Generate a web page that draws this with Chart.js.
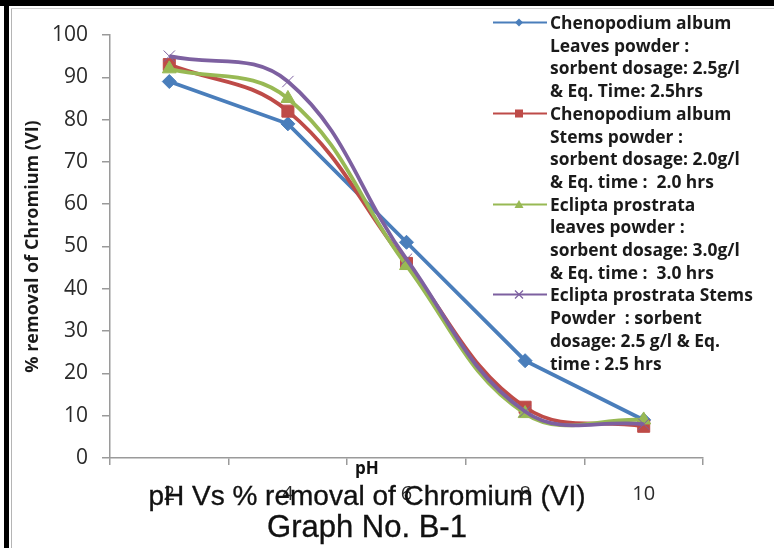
<!DOCTYPE html>
<html>
<head>
<meta charset="utf-8">
<title>pH Vs % removal of Chromium (VI)</title>
<script src="https://cdn.jsdelivr.net/npm/chart.js@4.4.1/dist/chart.umd.min.js"></script>
<style>
  html, body { margin: 0; padding: 0; background: #fff; }
  #wrap { position: relative; width: 774px; height: 548px; overflow: hidden; background: #fff; }
  #c { position: absolute; left: 0; top: 0; }
  .edge { position: absolute; }
  #legend { position: absolute; left: 550px; top: 11px; font: bold 17.4px "Open Sans"; line-height: 22.7px; color: #1a1a1a; white-space: nowrap; }
  .entry { position: relative; }
  .entry svg { position: absolute; left: -58px; top: 0; }
  .txt { position: absolute; left: 0; width: 734px; text-align: center; color: #111; font-family: "Liberation Sans"; -webkit-text-stroke: 0.35px #111; }
  #t1 { top: 481px; font-size: 28px; line-height: 30px; }
  #t2 { top: 511px; font-size: 31px; line-height: 32px; }
  #xt { position: absolute; left: 340px; width: 54px; top: 458px; text-align: center; font: bold 17px "Open Sans"; line-height: 20px; color: #111; }
</style>
</head>
<body>
<div id="wrap">
  <canvas id="c" width="774" height="548"></canvas>
  <div class="edge" style="left:0;top:0;width:774px;height:6px;background:#000"></div>
  <div class="edge" style="left:4px;top:0;width:5px;height:548px;background:#000"></div>
  <div class="edge" style="left:11px;top:8px;width:1px;height:540px;background:#b5b5b5"></div>
  <div class="edge" style="left:11px;top:8px;width:763px;height:1px;background:#d0d0d0"></div>
  <div id="xt">pH</div>
  <div id="legend"></div>
  <div class="txt" id="t1">pH Vs % removal of Chromium (VI)</div>
  <div class="txt" id="t2">Graph No. B-1</div>
</div>
<script>
// pH categories
const phLabels = ['2', '4', '6', '8', '10'];

// % removal of Cr(VI)
const caLeaves = [89, 79, 51, 23, 9];
const caStems = [93, 82, 46, 12, 7.5];
const epLeaves = [92, 85, 45.5, 10.5, 9];
const epStems = [95, 89, 47, 11, 8];

const yMin = 0, yMax = 100, yStep = 10;

const legendLines = [
  ['Chenopodium album', 'Leaves powder :', 'sorbent dosage: 2.5g/l', '& Eq. Time: 2.5hrs'],
  ['Chenopodium album', 'Stems powder :', 'sorbent dosage: 2.0g/l', '& Eq. time :  2.0 hrs'],
  ['Eclipta prostrata', 'leaves powder :', 'sorbent dosage: 3.0g/l', '& Eq. time :  3.0 hrs'],
  ['Eclipta prostrata Stems', 'Powder  : sorbent', 'dosage: 2.5 g/l & Eq.', 'time : 2.5 hrs']
];

const colors = ['#4a7ebb', '#be4b48', '#98b954', '#7d60a0'];
const shapes = ['rectRot', 'rect', 'triangle', 'crossRot'];

function makeSet(i, data, smooth, radius) {
  return {
    label: legendLines[i].join(' '),
    data: data,
    borderColor: colors[i],
    backgroundColor: colors[i],
    borderWidth: 3.8,
    tension: smooth ? 0.4 : 0,
    pointStyle: shapes[i],
    pointRadius: radius,
    pointBorderWidth: 1,
    pointBorderColor: colors[i],
    pointBackgroundColor: colors[i],
    order: 3 - i
  };
}

// legend (HTML so it can wrap lines like the original)
const legend = document.getElementById('legend');
legendLines.forEach((lines, i) => {
  const div = document.createElement('div');
  div.className = 'entry';
  const c = colors[i];
  let mark = '';
  if (i == 0) mark = `<polygon points="27,7.5 31,11.5 27,15.5 23,11.5" fill="${c}"/>`;
  if (i == 1) mark = `<rect x="23" y="7.5" width="8" height="8" fill="${c}"/>`;
  if (i == 2) mark = `<polygon points="27,7 31.5,15 22.5,15" fill="${c}"/>`;
  if (i == 3) mark = `<path d="M23,7.5 L31,15.5 M31,7.5 L23,15.5" stroke="${c}" stroke-width="1.2"/>`;
  div.innerHTML = `<svg width="56" height="23"><line x1="1" y1="11.5" x2="55" y2="11.5" stroke="${c}" stroke-width="2.2"/>${mark}</svg>` +
    lines.map(l => l.replace(/  /g, ' &nbsp;')).join('<br>');
  legend.appendChild(div);
});

const ctx = document.getElementById('c').getContext('2d');
const axisGrey = '#9a9a9a';

new Chart(ctx, {
  type: 'line',
  data: {
    labels: phLabels,
    datasets: [
      makeSet(0, caLeaves, false, 7),
      makeSet(1, caStems, true, 8.5),
      makeSet(2, epLeaves, true, 8),
      makeSet(3, epStems, true, 8)
    ]
  },
  options: {
    responsive: false,
    animation: false,
    layout: { padding: { top: 35, right: 71, left: 0, bottom: 0 } },
    plugins: {
      legend: { display: false },
      tooltip: { enabled: false }
    },
    scales: {
      x: {
        offset: true,
        grid: { offset: true, drawOnChartArea: false, drawTicks: true, tickLength: 7, color: axisGrey, lineWidth: 1.5 },
        border: { color: axisGrey, width: 1.5 },
        ticks: { color: '#2a2a2a', font: { family: 'Open Sans', size: 20 }, padding: 17, maxRotation: 0 },
        afterFit: s => { s.height = 90; }
      },
      y: {
        min: yMin,
        max: yMax,
        grid: { drawOnChartArea: false, drawTicks: true, tickLength: 8, color: axisGrey, lineWidth: 1.5 },
        border: { color: axisGrey, width: 1.5 },
        ticks: { stepSize: yStep, color: '#2a2a2a', font: { family: 'Open Sans', size: 21 }, padding: 14 },
        title: {
          display: true,
          text: '% removal of Chromium (VI)',
          color: '#1a1a1a',
          font: { family: 'Open Sans', size: 18, weight: 'bold' },
          padding: { top: 22, bottom: 0 }
        },
        afterFit: s => { s.width = 110; }
      }
    }
  }
});
</script>
</body>
</html>
